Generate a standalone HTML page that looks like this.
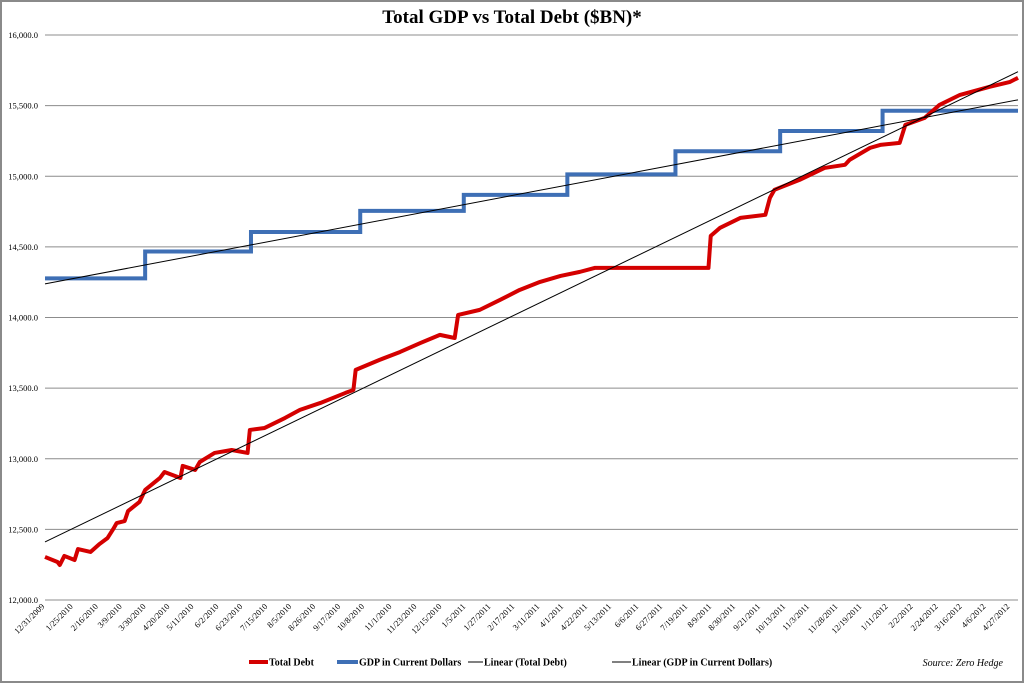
<!DOCTYPE html>
<html><head><meta charset="utf-8"><style>
html,body{margin:0;padding:0;background:#fff;}
svg{display:block;font-family:"Liberation Serif",serif;}
</style></head><body>
<svg id="chart" width="1024" height="683" viewBox="0 0 1024 683" xmlns="http://www.w3.org/2000/svg">
<rect x="1" y="1" width="1022" height="681" fill="#fff" stroke="#8a8a8a" stroke-width="2"/>
<text x="512" y="23" text-anchor="middle" font-size="19" font-weight="bold">Total GDP vs Total Debt ($BN)*</text>
<g id="grid"></g>
<g id="ylabels"></g>
<g id="xlabels"></g>
<g id="series"></g>
<g font-size="10" font-weight="bold">
<line x1="249" y1="662" x2="268" y2="662" stroke="#d40000" stroke-width="4"/>
<text x="269" y="665.5">Total Debt</text>
<line x1="337" y1="662" x2="358" y2="662" stroke="#3e6fb5" stroke-width="4"/>
<text x="359" y="665.5">GDP in Current Dollars</text>
<line x1="418" y1="662" x2="433" y2="662" stroke="#000" stroke-width="1" transform="translate(50,0)"/>
<text x="484" y="665.5">Linear (Total Debt)</text>
<line x1="612" y1="662" x2="631" y2="662" stroke="#000" stroke-width="1"/>
<text x="632" y="665.5">Linear (GDP in Current Dollars)</text>
</g>
<text x="1003" y="666" text-anchor="end" font-size="10" font-style="italic">Source: Zero Hedge</text>
</svg>
<script>
const yTicks = [12000,12500,13000,13500,14000,14500,15000,15500,16000];
const xTickLabels = ["12/31/2009","1/25/2010","2/16/2010","3/9/2010","3/30/2010","4/20/2010","5/11/2010","6/2/2010","6/23/2010","7/15/2010","8/5/2010","8/26/2010","9/17/2010","10/8/2010","11/1/2010","11/23/2010","12/15/2010","1/5/2011","1/27/2011","2/17/2011","3/11/2011","4/1/2011","4/22/2011","5/13/2011","6/6/2011","6/27/2011","7/19/2011","8/9/2011","8/30/2011","9/21/2011","10/13/2011","11/3/2011","11/28/2011","12/19/2011","1/11/2012","2/2/2012","2/24/2012","3/16/2012","4/6/2012","4/27/2012"];
// days since 12/31/2009
const debtDays = [0,11,13,17,26,29,40,48,55,60,63,70,73,83,88,101,105,119,121,132,136,149,164,178,180,193,211,224,242,264,271,273,294,312,330,347,360,363,382,400,417,435,453,470,483,583,585,593,611,633,637,641,663,685,703,707,725,734,751,756,773,786,804,830,848,855];
const debtValues = [12305,12269,12248,12312,12283,12361,12340,12397,12439,12503,12545,12559,12630,12694,12779,12864,12906,12864,12949,12921,12977,13041,13062,13041,13204,13218,13289,13346,13395,13466,13487,13629,13700,13756,13820,13877,13855,14018,14054,14125,14195,14252,14294,14323,14351,14351,14578,14634,14705,14727,14847,14904,14974,15059,15081,15116,15201,15222,15236,15364,15413,15505,15576,15633,15668,15697];
const gdpStepDays = [0,88,181,277,368,459,554,646,736];
const gdpValues = [14277,14467,14605,14755,14868,15013,15177,15320,15464];
const trendDebt = [12411,15740];
const trendGdp = [14238,15541];
const lastDay = 855;

const X0=45,X1=1018,Y0=600,Y1=35;
const x = d => X0 + d/lastDay*(X1-X0);
const y = v => Y0 - (v-12000)/4000*(Y0-Y1);
const NS="http://www.w3.org/2000/svg";
function mk(tag, parent, attrs){const e=document.createElementNS(NS,tag);for(const k in attrs)e.setAttribute(k,attrs[k]);parent.appendChild(e);return e;}
const grid=document.getElementById('grid'), yl=document.getElementById('ylabels'), xl=document.getElementById('xlabels'), ser=document.getElementById('series');
yTicks.forEach(v=>{
  const l=mk('line',grid,{x1:X0,x2:X1,y1:y(v),y2:y(v),stroke:'#8c8c8c','stroke-width':1});
  
  
  const t=mk('text',yl,{x:38,y:y(v)+3,'text-anchor':'end','font-size':8.5});
  
  
  t.textContent=v.toLocaleString('en-US',{minimumFractionDigits:1});
});
const base=Date.UTC(2009,11,31);
xTickLabels.forEach(s=>{
  const [m,d,yr]=s.split('/').map(Number);
  const day=(Date.UTC(yr,m-1,d)-base)/86400000;
  const px=x(day);
  const t=mk('text',xl,{x:px,y:607,'text-anchor':'end','font-size':8.5,transform:`rotate(-45 ${px} 607)`});
  
  
  t.textContent=s;
});
// GDP step line
let g=`M${x(gdpStepDays[0])},${y(gdpValues[0])}`;
for(let i=0;i<gdpValues.length;i++){
  const end=i+1<gdpStepDays.length?gdpStepDays[i+1]:lastDay;
  g+=` L${x(end)},${y(gdpValues[i])}`;
  if(i+1<gdpValues.length) g+=` L${x(end)},${y(gdpValues[i+1])}`;
}
const gp=mk('path',ser,{d:g,fill:'none',stroke:'#3e6fb5','stroke-width':4});


// Debt line
const dp=mk('path',ser,{d:debtDays.map((d,i)=>(i?'L':'M')+x(d)+','+y(debtValues[i])).join(' '),fill:'none',stroke:'#d40000','stroke-width':4,'stroke-linejoin':'round'});


const td=mk('line',ser,{x1:x(0),y1:y(trendDebt[0]),x2:x(lastDay),y2:y(trendDebt[1]),stroke:'#000','stroke-width':1});


const tg=mk('line',ser,{x1:x(0),y1:y(trendGdp[0]),x2:x(lastDay),y2:y(trendGdp[1]),stroke:'#000','stroke-width':1});


</script>
</body></html>
